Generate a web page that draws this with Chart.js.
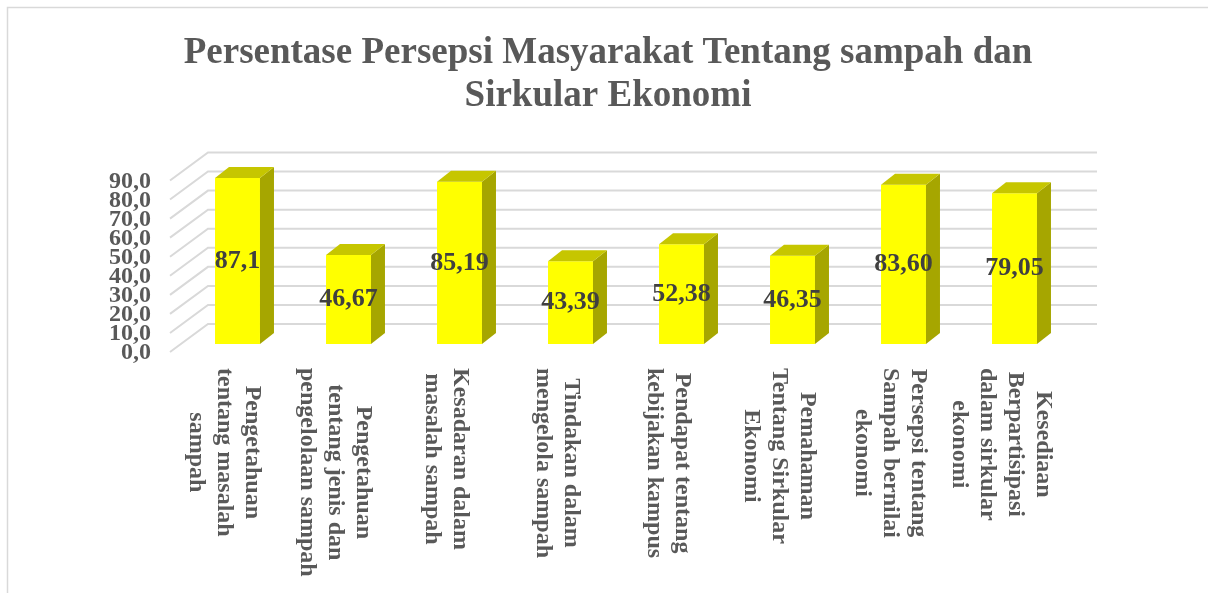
<!DOCTYPE html>
<html>
<head>
<meta charset="utf-8">
<script src="https://cdn.jsdelivr.net/npm/chart.js@4/dist/chart.umd.min.js"></script>
<style>
  html, body { margin: 0; padding: 0; background: #fff; }
  #wrap { width: 1208px; height: 593px; position: relative; }
</style>
</head>
<body>
<div id="wrap"><canvas id="persepsiChart"></canvas></div>
<script>
const titleLines = ["Persentase Persepsi Masyarakat Tentang sampah dan", "Sirkular Ekonomi"];
const categories = [
  ["Pengetahuan", "tentang masalah", "sampah"],
  ["Pengetahuan", "tentang jenis dan", "pengelolaan sampah"],
  ["Kesadaran dalam", "masalah sampah"],
  ["Tindakan dalam", "mengelola sampah"],
  ["Pendapat tentang", "kebijakan kampus"],
  ["Pemahaman", "Tentang Sirkular", "Ekonomi"],
  ["Persepsi tentang", "Sampah bernilai", "ekonomi"],
  ["Kesediaan", "Berpartisipasi", "dalam sirkular", "ekonomi"]
];
const values = [87.1, 46.67, 85.19, 43.39, 52.38, 46.35, 83.60, 79.05];
const decimals = [1, 2, 2, 2, 2, 2, 2, 2];
const yTicks = [0, 10, 20, 30, 40, 50, 60, 70, 80, 90];

(function () {
  const SERIF = '"Liberation Serif", "Times New Roman", serif';
  const depth = { dx: 14, dy: -11 };

  const fmt = (v, d) => v.toFixed(d).replace(".", ",");

  const decor = {
    id: "decor3d",
    beforeDatasetsDraw(chart) {
      const ctx = chart.ctx;
      const y = chart.scales.y;
      ctx.save();
      // outer border
      ctx.strokeStyle = "#d9d9d9";
      ctx.lineWidth = 1.5;
      ctx.strokeRect(7.5, 7.5, 1400, 800);
      // title
      ctx.fillStyle = "#595959";
      ctx.font = "bold 37px " + SERIF;
      ctx.textAlign = "center";
      ctx.textBaseline = "middle";
      titleLines.forEach((t, i) => ctx.fillText(t, 608, 53 + i * 43));
      // 3D gridlines (back wall + left wall)
      ctx.strokeStyle = "#d9d9d9";
      ctx.lineWidth = 2;
      yTicks.forEach((v) => {
        const yp = y.getPixelForValue(v);
        ctx.beginPath();
        ctx.moveTo(170, yp + 8);
        ctx.lineTo(208, yp - 20);
        ctx.lineTo(1097, yp - 20);
        ctx.stroke();
      });
      // y tick labels
      ctx.fillStyle = "#595959";
      ctx.font = "bold 24px " + SERIF;
      ctx.textAlign = "right";
      yTicks.forEach((v) => {
        const yp = y.getPixelForValue(v);
        ctx.fillText(fmt(v, 1), 151, yp + 9);
      });
      // category labels, rotated
      const x = chart.scales.x;
      ctx.font = "bold 24px " + SERIF;
      ctx.textAlign = "center";
      ctx.textBaseline = "middle";
      categories.forEach((lines, i) => {
        const cx = x.getPixelForValue(i) - 13;
        const w = Math.max(...lines.map((l) => ctx.measureText(l).width));
        ctx.save();
        ctx.translate(cx, 368);
        ctx.rotate(Math.PI / 2);
        lines.forEach((l, j) => {
          ctx.fillText(l, w / 2, (j - (lines.length - 1) / 2) * 28);
        });
        ctx.restore();
      });
      ctx.restore();
    },
    afterDatasetsDraw(chart) {
      const ctx = chart.ctx;
      const meta = chart.getDatasetMeta(0);
      ctx.save();
      meta.data.forEach((bar, i) => {
        const p = bar.getProps(["x", "y", "base", "width"], true);
        const l = p.x - p.width / 2;
        const r = p.x + p.width / 2;
        // side face
        ctx.fillStyle = "#a6a600";
        ctx.beginPath();
        ctx.moveTo(r, p.y);
        ctx.lineTo(r + depth.dx, p.y + depth.dy);
        ctx.lineTo(r + depth.dx, p.base + depth.dy);
        ctx.lineTo(r, p.base);
        ctx.closePath();
        ctx.fill();
        // top face
        ctx.fillStyle = "#c6c600";
        ctx.beginPath();
        ctx.moveTo(l, p.y);
        ctx.lineTo(l + depth.dx, p.y + depth.dy);
        ctx.lineTo(r + depth.dx, p.y + depth.dy);
        ctx.lineTo(r, p.y);
        ctx.closePath();
        ctx.fill();
        // value label
        ctx.fillStyle = "#404040";
        ctx.font = "bold 26px " + SERIF;
        ctx.textAlign = "center";
        ctx.textBaseline = "middle";
        ctx.fillText(fmt(values[i], decimals[i]), p.x, (p.y + p.base) / 2);
      });
      ctx.restore();
    }
  };

  function buildChart() {
    const canvas = document.getElementById("persepsiChart");
    if (!canvas || !window.Chart) {
      return;
    }
    new Chart(canvas.getContext("2d"), {
      type: "bar",
      data: {
        labels: categories.map((c) => c.join(" ")),
        datasets: [
          {
            data: values,
            backgroundColor: "#ffff00",
            borderWidth: 0,
            barPercentage: 0.405,
            categoryPercentage: 1
          }
        ]
      },
      options: {
        responsive: true,
        maintainAspectRatio: false,
        animation: false,
        layout: { padding: { left: 182, right: 138, top: 172.5, bottom: 249 } },
        plugins: {
          legend: { display: false },
          title: { display: false },
          tooltip: { enabled: false }
        },
        scales: {
          x: { display: false },
          y: { display: false, min: 0, max: 90 }
        }
      },
      plugins: [decor]
    });
  }

  document.addEventListener("DOMContentLoaded", buildChart);
})();
</script>
</body>
</html>
